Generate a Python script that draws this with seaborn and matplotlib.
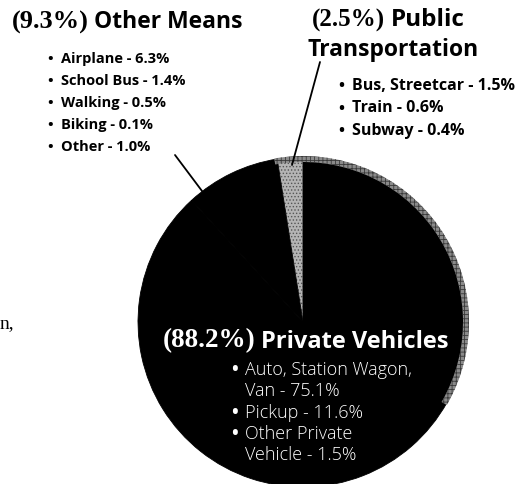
import matplotlib
matplotlib.use('Agg')
import matplotlib.pyplot as plt
from matplotlib.patches import Wedge
import seaborn as sns

# share of trips by mode, percent
groups = ['Public Transportation', 'Other Means', 'Private Vehicles']
shares = [2.5, 9.3, 88.2]

other_items = ['Airplane - 6.3%', 'School Bus - 1.4%', 'Walking - 0.5%',
               'Biking - 0.1%', 'Other - 1.0%']
public_items = ['Bus, Streetcar - 1.5%', 'Train - 0.6%', 'Subway - 0.4%']
private_items = ['Auto, Station Wagon,\nVan - 75.1%', 'Pickup - 11.6%',
                 'Other Private\nVehicle - 1.5%']

W, H = 524, 485
SANS = ['Open Sans', 'DejaVu Sans']
SERIF = ['Liberation Serif', 'DejaVu Serif']

sns.set_theme(style='white')
plt.rcParams['font.family'] = SANS
plt.rcParams['hatch.linewidth'] = 0.6

fig = plt.figure(figsize=(W / 100, H / 100), dpi=100)
ax = fig.add_axes([0, 0, 1, 1])


def Y(y):
    # pixel row -> data y
    return H - y


cx, cy, r = 303, Y(323), 165

colors = ['#b4b4b4', 'black', 'black']
wedges, _ = ax.pie(shares, colors=colors, startangle=90, counterclock=True,
                   center=(cx, cy), radius=r, wedgeprops=dict(linewidth=0.6))
for w, c in zip(wedges, colors):
    w.set_edgecolor(c)
wedges[0].set_edgecolor('#555555')
wedges[0].set_linewidth(0)
wedges[0].set_hatch('.....')

# shaded rim on the upper right
rim = Wedge((cx, cy), r + 1, -30, 100, width=6, facecolor='#8a8a8a',
            edgecolor='#3a3a3a', hatch='++++', linewidth=0)
ax.add_patch(rim)

ax.set_xlim(0, W)
ax.set_ylim(0, H)
ax.set_aspect('equal')
ax.axis('off')


def heading(x, y, pct, name, size, pct_size, color):
    t = ax.text(x, Y(y), pct, fontsize=pct_size, family=SERIF,
                fontweight='bold', color=color, ha='left', va='center')
    ax.annotate(name, xy=(1, 0), xycoords=t, xytext=(4, 0),
                textcoords='offset points', ha='left', va='bottom',
                fontsize=size, family=SANS, fontweight='bold', color=color)


def bullets(x, y, items, size, color, weight, step, indent):
    row = 0
    for item in items:
        for k, line in enumerate(item.split('\n')):
            yy = Y(y + row * step)
            if k == 0:
                ax.text(x, yy, '\u2022', fontsize=size, color=color,
                        fontweight='bold', ha='left', va='center')
            ax.text(x + indent, yy, line, fontsize=size, color=color,
                    fontweight=weight, ha='left', va='center')
            row += 1


# Other Means
heading(12, 22, '(9.3%)', 'Other Means', 16.5, 19, 'black')
bullets(47, 59, other_items, 10.5, 'black', 'bold', 22, 14)
ax.plot([175, 205], [Y(156), Y(196)], color='black', lw=1.3)

# Public Transportation
heading(312, 20, '(2.5%)', 'Public', 17.5, 18, 'black')
ax.text(307, Y(50), 'Transportation', fontsize=16.5, fontweight='bold',
        color='black', ha='left', va='center')
bullets(338, 86, public_items, 11.5, 'black', 'bold', 22.5, 14)
ax.plot([320, 292], [Y(63), Y(166)], color='black', lw=1.3)

# Private Vehicles
heading(163, 341, '(88.2%)', 'Private Vehicles', 17, 19.5, 'white')
bullets(231, 370, private_items, 13, 'white', 'light', 21.3, 14)

# fragment of body text at the left margin
ax.text(0, Y(324), 'n,', fontsize=14, family=SERIF, color='black',
        ha='left', va='center')

fig.savefig('out.png', dpi=100)
